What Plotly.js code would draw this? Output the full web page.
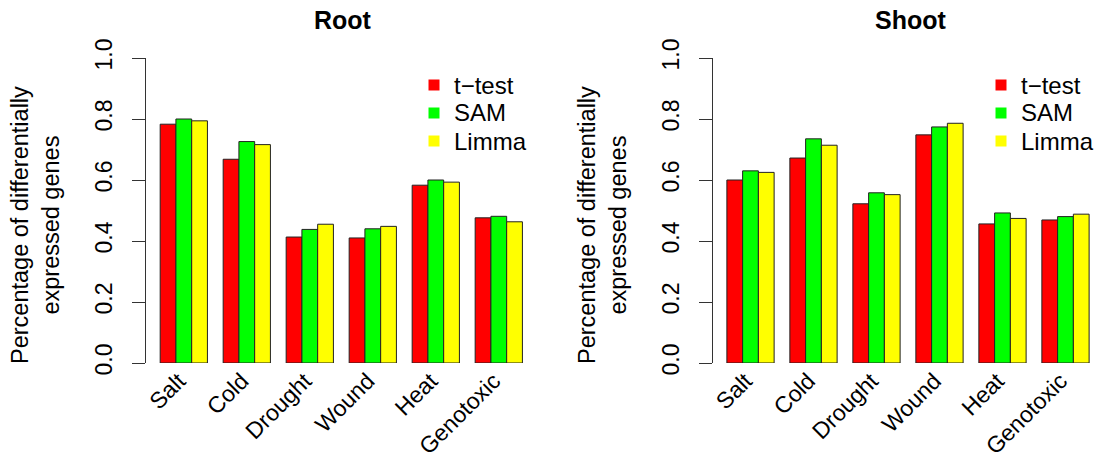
<!DOCTYPE html>
<html>
<head>
<meta charset="utf-8">
<script src="https://cdn.plot.ly/plotly-3.0.1.min.js"></script>
<style>html,body{margin:0;padding:0;background:#fff;}#chart{width:1098px;height:458px;}</style>
</head>
<body>
<div id="chart"></div>
<script>
const categories = ['Salt', 'Cold', 'Drought', 'Wound', 'Heat', 'Genotoxic'];
const methods = ['t\u2212test', 'SAM', 'Limma'];
const rootTtest = [0.783, 0.668, 0.413, 0.410, 0.583, 0.476];
const rootSAM   = [0.800, 0.726, 0.438, 0.440, 0.600, 0.481];
const rootLimma = [0.794, 0.716, 0.455, 0.448, 0.593, 0.463];
const shootTtest = [0.600, 0.672, 0.522, 0.748, 0.456, 0.469];
const shootSAM   = [0.630, 0.735, 0.558, 0.774, 0.492, 0.480];
const shootLimma = [0.625, 0.714, 0.552, 0.786, 0.474, 0.488];
const yTicks = [0, 0.2, 0.4, 0.6, 0.8, 1.0];
const panelTitles = ['Root', 'Shoot'];
const yTitle = 'Percentage of differentially<br>expressed genes';

const colors = ['#ff0000', '#00ff00', '#ffff00'];
const FONT = 'Liberation Sans, Arial, Helvetica, sans-serif';
const W = 1098, H = 458;
const px = v => v / W;
const py = v => (H - v) / H;

const rootSeries = [rootTtest, rootSAM, rootLimma];
const shootSeries = [shootTtest, shootSAM, shootLimma];

const traces = [];
[[rootSeries, 'x', 'y'], [shootSeries, 'x2', 'y2']].forEach(([series, xa, ya]) => {
  series.forEach((vals, i) => {
    traces.push({
      type: 'bar', x: categories, y: vals, name: methods[i],
      xaxis: xa, yaxis: ya, showlegend: false,
      marker: {color: colors[i], line: {color: '#222', width: 1}},
      hoverinfo: 'x+y+name'
    });
  });
});

function xAxis(d0, d1, anchor) {
  return {
    domain: [px(d0), px(d1)], anchor: anchor, type: 'category', range: [-0.6, 5.5],
    showline: false, ticks: '', showgrid: false, zeroline: false, tickangle: -45,
    ticklabelstandoff: -1, ticklabelshift: -5,
    tickfont: {family: FONT, size: 23, color: '#000'}, fixedrange: true
  };
}
function yAxis(anchor) {
  return {
    domain: [py(363), py(58)], anchor: anchor, range: [0, 1],
    tickvals: yTicks, tickformat: '.1f', tickangle: -90,
    ticks: 'outside', ticklen: 13, tickcolor: '#333', tickwidth: 1,
    showline: true, linecolor: '#333', linewidth: 1,
    showgrid: false, zeroline: false, ticklabelstandoff: 11,
    tickfont: {family: FONT, size: 23, color: '#000'}, fixedrange: true
  };
}

const annotations = [];
const shapes = [];
// panel titles and y-axis titles
[[343, 35], [910, 602]].forEach(([tx, ytx], p) => {
  annotations.push({text: '<b>' + panelTitles[p] + '</b>', xref: 'paper', yref: 'paper',
    x: px(tx), y: py(20), xanchor: 'center', yanchor: 'middle', showarrow: false,
    font: {family: FONT, size: 25, color: '#000'}});
  annotations.push({text: yTitle, xref: 'paper', yref: 'paper', x: px(ytx), y: py(225),
    textangle: -90, xanchor: 'center', yanchor: 'middle', showarrow: false,
    font: {family: FONT, size: 23.5, color: '#000'}});
});
// legends (one per panel)
[434, 1001].forEach(sx => {
  methods.forEach((m, i) => {
    const cy = 85 + i * 28;
    shapes.push({type: 'rect', xref: 'paper', yref: 'paper',
      x0: px(sx - 5.5), x1: px(sx + 5.5), y0: py(cy + 5.5), y1: py(cy - 5.5),
      fillcolor: colors[i], line: {width: 0}});
    annotations.push({text: m, xref: 'paper', yref: 'paper', x: px(sx + 18), y: py(cy),
      xanchor: 'left', yanchor: 'middle', showarrow: false,
      font: {family: FONT, size: 24, color: '#000'}});
  });
});

const layout = {
  width: W, height: H, margin: {l: 0, r: 0, t: 0, b: 0},
  paper_bgcolor: '#fff', plot_bgcolor: '#fff', showlegend: false,
  barmode: 'group', bargap: 0.25, bargroupgap: 0,
  xaxis: xAxis(146, 530.3, 'y'),
  yaxis: yAxis('x'),
  xaxis2: xAxis(712.7, 1097, 'y2'),
  yaxis2: yAxis('x2'),
  annotations: annotations,
  shapes: shapes
};

Plotly.newPlot('chart', traces, layout, {displayModeBar: false, staticPlot: true});
</script>
</body>
</html>
